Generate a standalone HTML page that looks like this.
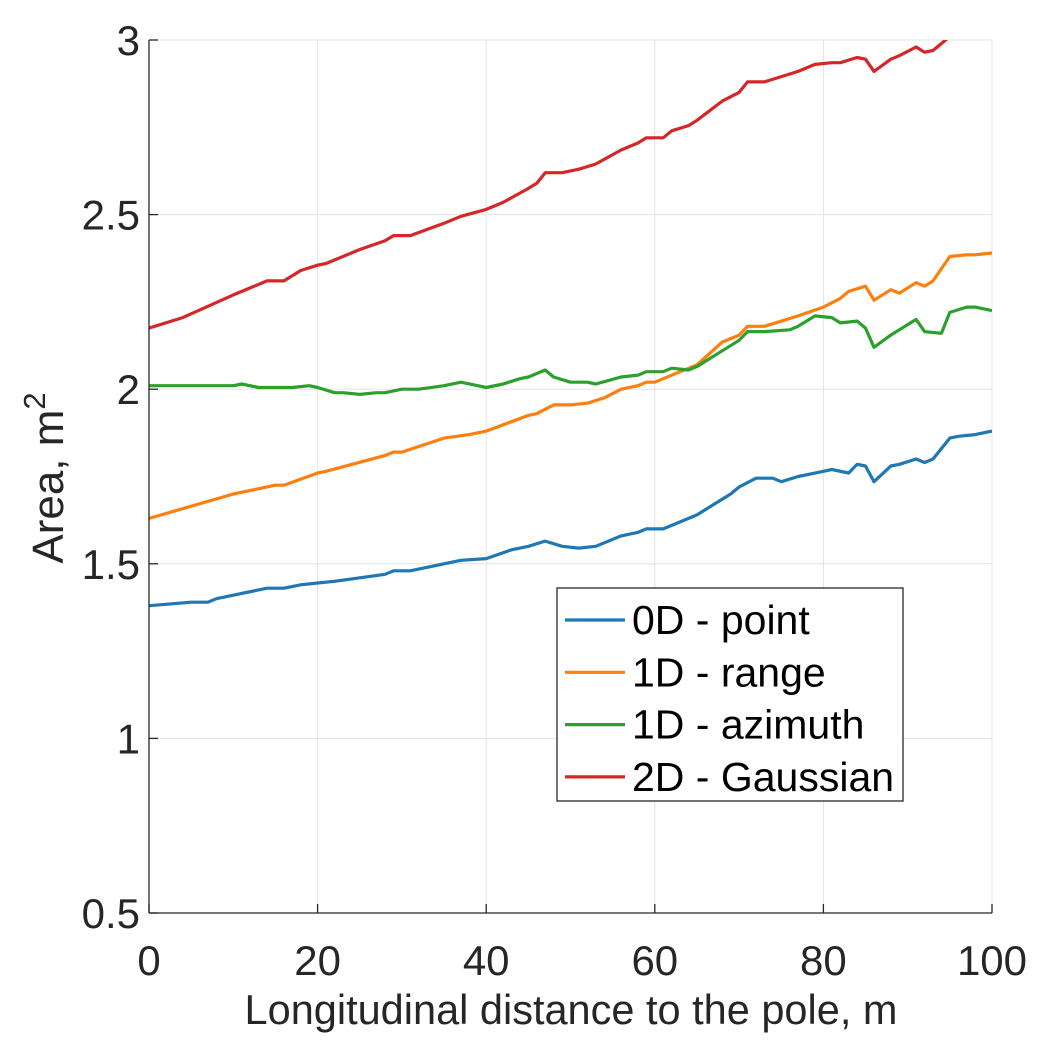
<!DOCTYPE html>
<html><head><meta charset="utf-8"><style>
html,body{margin:0;padding:0;background:#fff;}
svg{display:block;font-family:"Liberation Sans",Arial,sans-serif;}
</style></head><body>
<svg id="chart" width="1042" height="1042" viewBox="0 0 1042 1042" xmlns="http://www.w3.org/2000/svg">
<defs><clipPath id="plotclip"><rect x="149" y="40" width="843" height="873"/></clipPath></defs>
<rect x="149" y="40" width="843" height="873" fill="#fff"/>
<g id="grid"></g>
<g id="series" clip-path="url(#plotclip)"></g>
<g id="axes"></g>
<text x="571" y="1024" text-anchor="middle" font-size="41.5" fill="#262626">Longitudinal distance to the pole, m</text>
<text transform="translate(63,478) rotate(-90)" text-anchor="middle" font-size="44" fill="#262626">Area, m<tspan font-size="31" dy="-18">2</tspan></text>
<g>
<rect x="557" y="588" width="346" height="213" fill="#fff" stroke="#262626" stroke-width="1.3"/>
<g id="legend-items"></g>
</g>
</svg>
<script>
const xTicks=[0,20,40,60,80,100];
const yTicks=[0.5,1,1.5,2,2.5,3];
const seriesNames=["0D - point","1D - range","1D - azimuth","2D - Gaussian"];
const seriesColors=["#1f77b4","#ff7f0e","#2ca02c","#d62728"];
const blueX=[0,5,7,8,10,14,16,18,20,22,25,28,29,31,35,37,40,43,45,47,49,51,53,56,58,59,61,63,65,67,69,70,72,74,75,77,78,80,81,83,84,85,86,88,89,91,92,93,95,96,98,100];
const blueY=[1.38,1.39,1.39,1.40,1.41,1.43,1.43,1.44,1.445,1.45,1.46,1.47,1.48,1.48,1.50,1.51,1.515,1.54,1.55,1.565,1.55,1.545,1.55,1.58,1.59,1.60,1.60,1.62,1.64,1.67,1.70,1.72,1.745,1.745,1.735,1.75,1.755,1.765,1.77,1.76,1.785,1.78,1.735,1.78,1.785,1.80,1.79,1.80,1.86,1.865,1.87,1.88];
const orangeX=[0,10,15,16,20,21,28,29,30,35,38,40,45,46,48,50,52,54,56,58,59,60,63,65,68,70,71,73,77,80,82,83,85,86,88,89,91,92,93,95,97,98,100];
const orangeY=[1.63,1.70,1.725,1.725,1.76,1.765,1.81,1.82,1.82,1.86,1.87,1.88,1.925,1.93,1.955,1.955,1.96,1.975,2.00,2.01,2.02,2.02,2.05,2.07,2.135,2.155,2.18,2.18,2.21,2.235,2.26,2.28,2.295,2.255,2.285,2.275,2.305,2.295,2.31,2.38,2.385,2.385,2.39];
const greenX=[0,10,11,13,17,19,20,22,23,25,27,28,30,32,35,37,39,40,42,44,45,47,48,50,52,53,56,58,59,61,62,64,65,68,70,71,73,76,77,79,81,82,84,85,86,88,89,91,92,94,95,97,98,100];
const greenY=[2.01,2.01,2.015,2.005,2.005,2.01,2.005,1.99,1.99,1.985,1.99,1.99,2.0,2.0,2.01,2.02,2.01,2.005,2.015,2.03,2.035,2.055,2.035,2.02,2.02,2.015,2.035,2.04,2.05,2.05,2.06,2.055,2.065,2.11,2.14,2.165,2.165,2.17,2.18,2.21,2.205,2.19,2.195,2.175,2.12,2.155,2.17,2.2,2.165,2.16,2.22,2.235,2.235,2.225];
const redX=[0,4,10,12,14,16,18,20,21,25,28,29,31,35,37,40,42,45,46,47,49,51,53,56,58,59,61,62,64,65,68,70,71,73,77,79,81,82,84,85,86,88,89,91,92,93,94.5,96];
const redY=[2.175,2.205,2.27,2.29,2.31,2.31,2.34,2.355,2.36,2.40,2.425,2.44,2.44,2.475,2.495,2.515,2.535,2.575,2.59,2.62,2.62,2.63,2.645,2.685,2.705,2.72,2.72,2.74,2.755,2.77,2.825,2.85,2.88,2.88,2.91,2.93,2.935,2.935,2.95,2.945,2.91,2.945,2.955,2.98,2.965,2.97,3.0,3.03];
const allX=[blueX,orangeX,greenX,redX];
const allY=[blueY,orangeY,greenY,redY];
const seriesKeys=["blue","orange","green","red"];

const L=149,R=992,T=40,B=913;
const sx=v=>L+(v-0)/(100-0)*(R-L);
const sy=v=>B-(v-0.5)/(3-0.5)*(B-T);
const NS="http://www.w3.org/2000/svg";
function mk(tag,attrs,parent){const e=document.createElementNS(NS,tag);for(const k in attrs)e.setAttribute(k,attrs[k]);parent.appendChild(e);return e;}
const grid=document.getElementById('grid'),axes=document.getElementById('axes'),ser=document.getElementById('series'),leg=document.getElementById('legend-items');
xTicks.forEach(t=>{
  const g=mk('line',{x1:sx(t),x2:sx(t),y1:T,y2:B,stroke:'#e3e3e3','stroke-width':1},grid);
  
  
  const tk=mk('line',{x1:sx(t),x2:sx(t),y1:B,y2:B-9,stroke:'#262626','stroke-width':1.3},axes);
  
  
  const lb=mk('text',{x:sx(t),y:B+62,'text-anchor':'middle','font-size':42,fill:'#262626'},axes);
  lb.textContent=t;
  
  
});
yTicks.forEach(t=>{
  const g=mk('line',{x1:L,x2:R,y1:sy(t),y2:sy(t),stroke:'#e3e3e3','stroke-width':1},grid);
  
  
  const tk=mk('line',{x1:L,x2:L+9,y1:sy(t),y2:sy(t),stroke:'#262626','stroke-width':1.3},axes);
  
  
  const lb=mk('text',{x:L-9,y:sy(t)+15,'text-anchor':'end','font-size':42,fill:'#262626'},axes);
  lb.textContent=t;
  
  
});
const xa=mk('line',{x1:L,x2:R,y1:B,y2:B,stroke:'#262626','stroke-width':1.3},axes);


const ya=mk('line',{x1:L,x2:L,y1:T,y2:B,stroke:'#262626','stroke-width':1.3},axes);


allX.forEach((xs,i)=>{
  const d=xs.map((x,j)=>(j?'L':'M')+sx(x).toFixed(1)+','+sy(allY[i][j]).toFixed(1)).join(' ');
  const p=mk('path',{d:d,fill:'none',stroke:seriesColors[i],'stroke-width':3.2,'stroke-linejoin':'round'},ser);
  
  
});
seriesNames.forEach((n,i)=>{
  const y=620+i*52.3;
  const g=mk('g',{},leg);
  
  
  mk('line',{x1:565,x2:625,y1:y,y2:y,stroke:seriesColors[i],'stroke-width':3.2},g);
  const t=mk('text',{x:632,y:y+14,'font-size':41,fill:'#000'},g);
  t.textContent=n;
});
</script>
</body></html>
